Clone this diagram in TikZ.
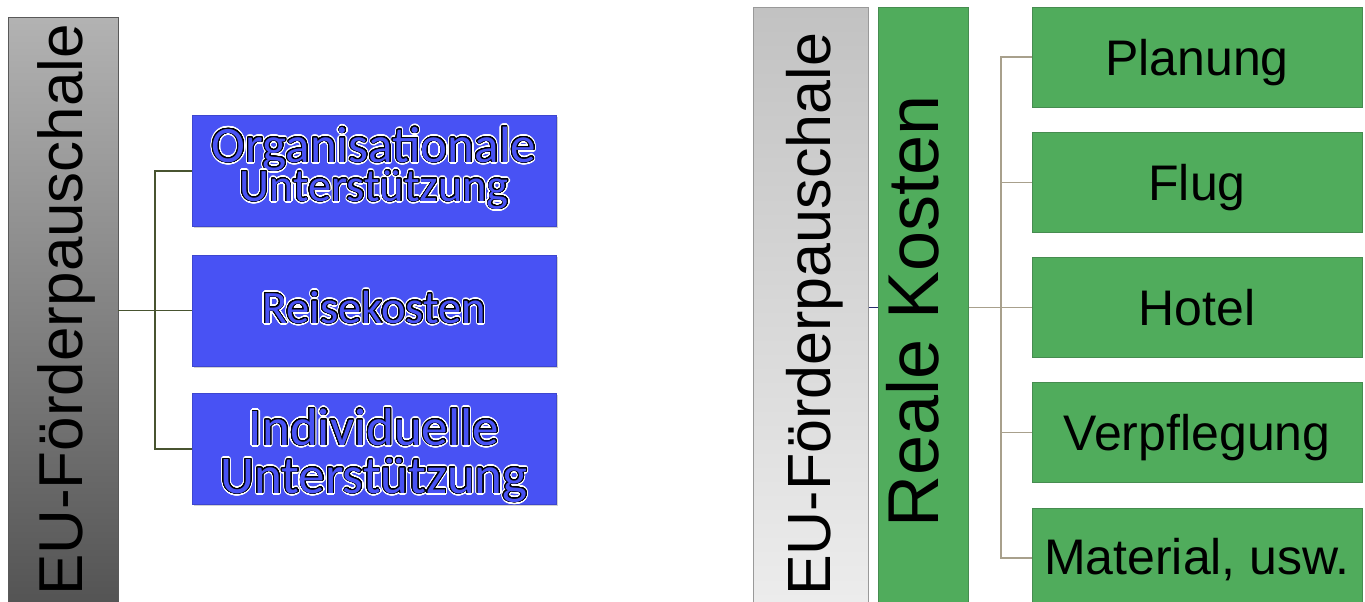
\documentclass[tikz,border=0pt]{standalone}
\usepackage{fontspec}
\setmainfont{Liberation Sans}
\newfontfamily\calib{Carlito}
\usepackage{contour}
\contournumber{32}
\usetikzlibrary{shadows}
\definecolor{boxblue}{RGB}{72,82,244}
\definecolor{boxgreen}{RGB}{80,172,92}
\definecolor{greenedge}{RGB}{70,140,80}
\definecolor{olivec}{RGB}{72,84,48}
\definecolor{tanc}{RGB}{168,160,140}
\definecolor{navyc}{RGB}{40,44,110}
\newcommand{\otext}[1]{%
  \makebox[0pt][l]{\color{white}\contourlength{2.2pt}\contour{white}{#1}}%
  \makebox[0pt][l]{\color{black}\contourlength{0.9pt}\contour{black}{#1}}%
  {\color{boxblue}#1}}
\tikzset{
  bluebox/.style={draw=boxblue!85!black, line width=0.4pt, fill=boxblue, minimum width=364pt, minimum height=111pt, inner sep=0pt,
    drop shadow={shadow xshift=1.5pt, shadow yshift=-1.5pt, opacity=0.35}},
  greenbox/.style={draw=greenedge, line width=0.6pt, fill=boxgreen, minimum width=330pt, minimum height=100pt, inner sep=0pt},
  btext/.style={inner sep=0pt, anchor=base},
  gtext/.style={inner sep=0pt, anchor=base, font=\fontsize{50}{50}\selectfont},
  vtext/.style={inner sep=0pt, rotate=90, anchor=base west},
  conL/.style={draw=olivec, line width=1.4pt},
  conR/.style={draw=tanc, line width=1.2pt},
}
\begin{document}
\begin{tikzpicture}[x=1pt, y=-1pt]
\useasboundingbox (0,0) rectangle (1365,602);
\fill[white] (0,0) rectangle (1365,602);

% ---------- left panel ----------
\node[draw=gray!70!black, line width=0.4pt, top color=black!30, bottom color=black!68, minimum width=110pt, minimum height=600pt, inner sep=0pt, anchor=north west] (L) at (8,17) {};
\node[vtext, font=\fontsize{62}{62}\selectfont] (Lt) at (82,596) {EU-Förderpauschale};

\node[bluebox] (b1) at (374,171) {};
\node[bluebox] (b2) at (374,310.5) {};
\node[bluebox] (b3) at (374,449) {};

\node[btext, font=\calib\fontsize{51}{50}\selectfont] (t1a) at (374,162) {\otext{Organisationale}};
\node[btext, font=\calib\fontsize{46.5}{46}\selectfont] (t1b) at (374,201) {\otext{Unterstützung}};
\node[btext, font=\calib\fontsize{46.5}{46}\selectfont] (t2) at (374,323) {\otext{Reisekosten}};
\node[btext, font=\calib\fontsize{53}{52}\selectfont] (t3a) at (374,445) {\otext{Individuelle}};
\node[btext, font=\calib\fontsize{53}{52}\selectfont] (t3b) at (374,493) {\otext{Unterstützung}};

\coordinate (jL) at (155,310.5);
\draw[conL] (L.east |- jL) -- (b2.west);
\draw[conL] (b1.west) -| (jL) |- (b3.west);

% ---------- right panel ----------
\node[draw=gray!80, line width=0.5pt, top color=black!24, bottom color=black!7, minimum width=115pt, minimum height=610pt, inner sep=0pt, anchor=north west] (R1) at (753,7) {};
\node[vtext, font=\fontsize{61}{61}\selectfont] (R1t) at (830,596) {EU-Förderpauschale};
\node[draw=greenedge, line width=0.5pt, fill=boxgreen, minimum width=90pt, minimum height=610pt, inner sep=0pt, anchor=north west] (R2) at (878,7) {};
\node[vtext, font=\fontsize{72}{72}\selectfont] (R2t) at (938,528) {Reale Kosten};

\node[greenbox] (g1) at (1197,57) {};
\node[greenbox] (g2) at (1197,182.5) {};
\node[greenbox] (g3) at (1197,307.5) {};
\node[greenbox] (g4) at (1197,432.5) {};
\node[greenbox] (g5) at (1197,558) {};

\node[gtext] (gt1) at (1197,75) {Planung};
\node[gtext] (gt2) at (1197,200.5) {Flug};
\node[gtext] (gt3) at (1197,325.5) {Hotel};
\node[gtext] (gt4) at (1197,450.5) {Verpflegung};
\node[gtext] (gt5) at (1197,574) {Material, usw.};

\coordinate (jR) at (1001,307.5);
\draw[draw=navyc, line width=1.6pt] (R1.east |- jR) -- (R2.west |- jR);
\draw[conR] (R2.east |- jR) -- (g3.west);
\draw[conR] (g1.west) -| (jR) |- (g5.west);
\draw[conR] (g2.west) -| (jR);
\draw[conR] (g4.west) -| (jR);
\end{tikzpicture}
\end{document}
